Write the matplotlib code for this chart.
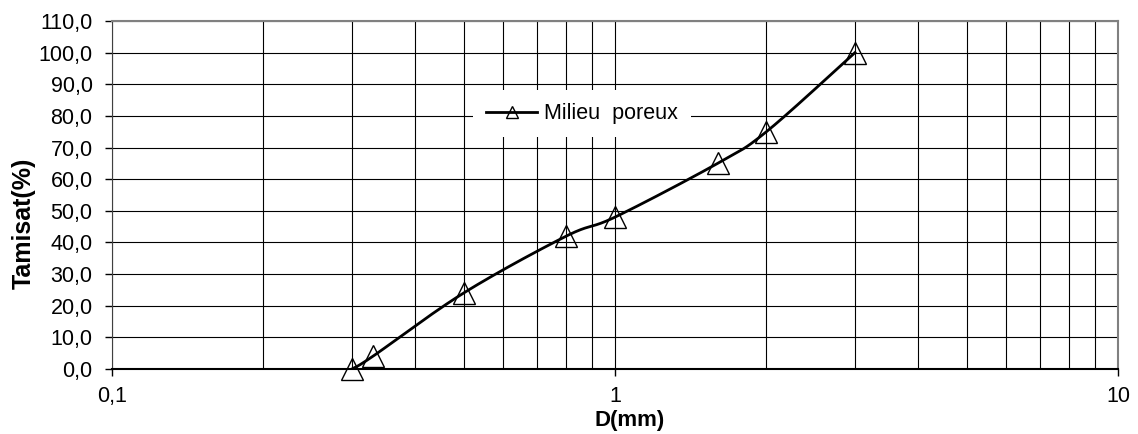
import numpy as np
import matplotlib
matplotlib.use("Agg")
import matplotlib.pyplot as plt
from matplotlib.ticker import FixedLocator, FuncFormatter, NullFormatter
from matplotlib.lines import Line2D

# sieve data
diam_mm = [0.3, 0.33, 0.5, 0.8, 1.0, 1.6, 2.0, 3.0]
tamisat = [0.0, 4.0, 24.0, 42.0, 48.0, 65.0, 75.0, 100.0]
series_name = "Milieu  poreux"

y_ticks = list(range(0, 111, 10))
x_major = [0.1, 1, 10]


def smooth_curve(xs, ys, n=30):
    # Catmull-Rom style smoothing in (log x, y) space, like a spreadsheet "smoothed line"
    px = np.log10(xs) * 503.0
    py = np.asarray(ys, dtype=float) * 3.164
    pts = np.column_stack([px, py])
    out = []
    for i in range(len(pts) - 1):
        p0 = pts[i - 1] if i > 0 else pts[i]
        p1 = pts[i]
        p2 = pts[i + 1]
        p3 = pts[i + 2] if i + 2 < len(pts) else pts[i + 1]
        c1 = p1 + (p2 - p0) / 6.0
        c2 = p2 - (p3 - p1) / 6.0
        t = np.linspace(0, 1, n)[:, None]
        seg = ((1 - t) ** 3) * p1 + 3 * ((1 - t) ** 2) * t * c1 + 3 * (1 - t) * t ** 2 * c2 + t ** 3 * p2
        out.append(seg if i == 0 else seg[1:])
    out = np.vstack(out)
    return 10 ** (out[:, 0] / 503.0), out[:, 1] / 3.164


plt.rcParams['font.family'] = ['Liberation Sans', 'DejaVu Sans']

fig = plt.figure(figsize=(11.38, 4.34), dpi=100)
ax = fig.add_axes([0.0984, 0.1498, 0.884, 0.8018])
ax.set_xscale('log')
ax.set_xlim(0.1, 10)
ax.set_ylim(0, 110)

# grid
ax.xaxis.set_major_locator(FixedLocator(x_major))
minor = [m * 10.0 ** e for e in (-1, 0) for m in range(2, 10)]
ax.xaxis.set_minor_locator(FixedLocator(minor))
ax.xaxis.set_minor_formatter(NullFormatter())
ax.xaxis.set_major_formatter(FuncFormatter(lambda v, p: ('%g' % v).replace('.', ',')))
ax.set_yticks(y_ticks)
ax.yaxis.set_major_formatter(FuncFormatter(lambda v, p: ('%.1f' % v).replace('.', ',')))
ax.grid(True, which='both', axis='x', color='black', lw=0.8)
ax.grid(True, which='major', axis='y', color='black', lw=0.8)
ax.set_axisbelow(True)

ax.tick_params(axis='x', which='minor', length=0)
ax.tick_params(axis='x', which='major', direction='out', length=5, width=1, labelsize=15.5, pad=7.5)
ax.tick_params(axis='y', direction='out', length=5, width=1, labelsize=15.5, pad=9)

for side in ('top', 'right'):
    ax.spines[side].set_color('#808080')
    ax.spines[side].set_linewidth(1.5)
ax.spines['left'].set_color('#404040')
ax.spines['bottom'].set_color('black')
ax.spines['bottom'].set_linewidth(1.5)

sx, sy = smooth_curve(diam_mm, tamisat)
ax.plot(sx, sy, color='black', lw=2.0, zorder=3)
ax.plot(diam_mm, tamisat, linestyle='none', marker='^', ms=16, mfc='none',
        mec='black', mew=1.0, zorder=4, clip_on=False)

handle = Line2D([], [], color='black', lw=2.0, marker='^', ms=8, mfc='none', mec='black', mew=1.0)
leg = ax.legend([handle], [series_name], loc='center', bbox_to_anchor=(0.467, 0.733),
                frameon=True, fontsize=15.5, handlelength=2.4, handletextpad=0.3,
                borderpad=0.6, borderaxespad=0)
leg.get_frame().set_facecolor('white')
leg.get_frame().set_edgecolor('none')
leg.get_frame().set_alpha(1)
leg.get_frame().set_boxstyle('square', pad=0)

ax.set_xlabel('D(mm)', fontsize=16, fontweight='bold', va='center')
ax.xaxis.set_label_coords(0.515, -0.148)
ax.set_ylabel('Tamisat(%)', fontsize=18, fontweight='bold', va='center')
ax.yaxis.set_label_coords(-0.0875, 0.42)

fig.savefig('out.png', dpi=100)
